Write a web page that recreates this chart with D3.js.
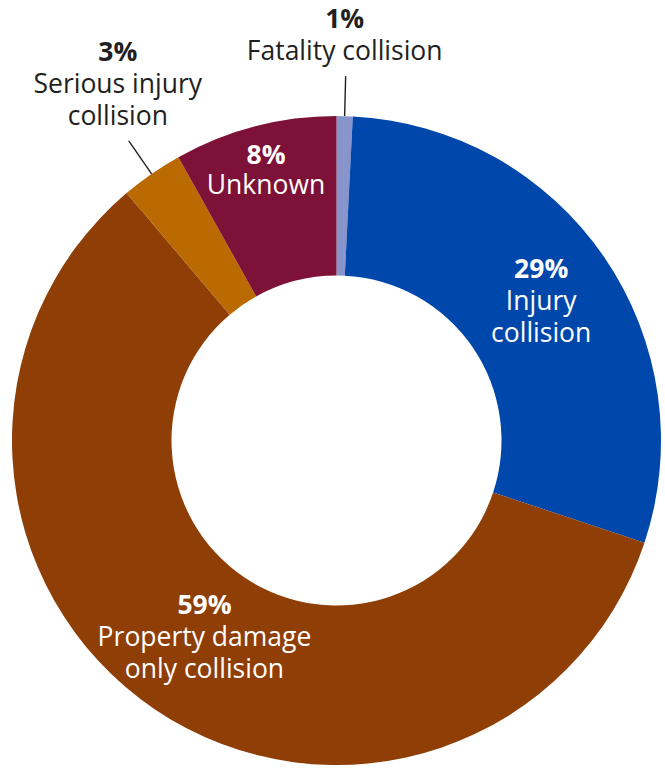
<!DOCTYPE html>
<html>
<head>
<meta charset="utf-8">
<script src="https://cdn.jsdelivr.net/npm/d3@7"></script>
<style>
  html, body { margin: 0; padding: 0; background: #ffffff; }
  svg { display: block; }
</style>
</head>
<body>
<svg id="chart" width="665" height="770"></svg>
<script>
// ---- data ----
const categories = ["Fatality collision", "Injury collision", "Property damage only collision", "Serious injury collision", "Unknown"];
const values = [0.8, 29.3, 58.7, 3.1, 8.1];
const labelLines = [["Fatality collision"], ["Injury", "collision"], ["Property damage", "only collision"], ["Serious injury", "collision"], ["Unknown"]];
const colors = ["#8894cc", "#0047ab", "#8f3e05", "#ba6a00", "#7e1137"];

// ---- layout (style, not data) ----
const cx = 336.5, cy = 440.5;
const outerR = 324.5, innerR = 165;
const insideLabelR = [null, 248, 236, null, 280];
const outside = [true, false, false, true, false];
const outsideDx = [-1, 0, 0, -11, 0];
const lineHs = [32, 32, 32, 32, 30];
const fontSize = 26.5;

const svg = d3.select("#chart");
const g = svg.append("g").attr("transform", `translate(${cx},${cy})`);

const data = categories.map((c, i) => ({ cat: c, value: values[i], i }));
const pie = d3.pie().value(d => d.value).sort(null);
const arcs = pie(data);
const arc = d3.arc().innerRadius(innerR).outerRadius(outerR);

g.selectAll("path.slice")
  .data(arcs)
  .join("path")
  .attr("class", "slice")
  .attr("d", arc)
  .attr("fill", d => colors[d.data.i]);

const pct = v => Math.round(v) + "%";
function polar(angle, r) { return [r * Math.sin(angle), -r * Math.cos(angle)]; }

arcs.forEach(a => {
  const i = a.data.i;
  const mid = (a.startAngle + a.endAngle) / 2;
  const lines = [pct(a.data.value)].concat(labelLines[i]);
  const n = lines.length;
  const lineH = lineHs[i];
  let x, firstBaseline, fill;
  if (outside[i]) {
    const p0 = polar(mid, outerR);
    const p1 = polar(mid, outerR + 40);
    g.append("line")
      .attr("x1", p0[0]).attr("y1", p0[1])
      .attr("x2", p1[0]).attr("y2", p1[1])
      .attr("stroke", "#231f20").attr("stroke-width", 1.4);
    fill = "#231f20";
    x = p1[0] + outsideDx[i];
    firstBaseline = p1[1] - 16 - (n - 1) * lineH;
  } else {
    const p = polar(mid, insideLabelR[i]);
    x = p[0];
    fill = "#ffffff";
    const capH = fontSize * 0.714;
    const blockH = (n - 1) * lineH + capH;
    firstBaseline = p[1] - blockH / 2 + capH;
  }
  const text = g.append("text")
    .attr("text-anchor", "middle")
    .attr("font-family", "'Open Sans', 'Noto Sans', sans-serif")
    .attr("font-size", fontSize)
    .attr("fill", fill);
  lines.forEach((t, k) => {
    text.append("tspan")
      .attr("x", x)
      .attr("y", firstBaseline + k * lineH)
      .attr("font-weight", k === 0 ? 700 : 400)
      .text(t);
  });
});
</script>
</body>
</html>
